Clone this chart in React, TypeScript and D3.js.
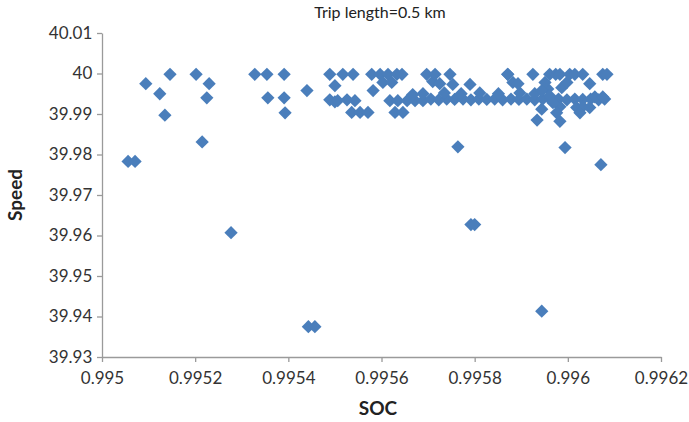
import React, { useRef, useEffect } from "react";
import * as d3 from "d3";

// SOC / speed samples (Trip length = 0.5 km)
const socValues: number[] = [
  0.995056, 0.995071, 0.995094, 0.995124, 0.995135, 0.995146, 0.995202, 0.995215,
  0.995225, 0.99523, 0.995277, 0.995328, 0.995354, 0.995356, 0.995391, 0.995391,
  0.995393, 0.99544, 0.995443, 0.995457, 0.995489, 0.9955, 0.995489, 0.9955,
  0.995506, 0.995517, 0.995526, 0.995539, 0.995543, 0.995536, 0.995554, 0.995571,
  0.995579, 0.995582, 0.995597, 0.995614, 0.995633, 0.995644, 0.995603, 0.995622,
  0.995618, 0.995635, 0.995655, 0.995672, 0.995689, 0.995629, 0.995646, 0.995667,
  0.995689, 0.995697, 0.99571, 0.995715, 0.995725, 0.995747, 0.995753, 0.99579,
  0.995706, 0.995723, 0.99574, 0.995757, 0.995775, 0.995792, 0.995809, 0.995826,
  0.995843, 0.99586, 0.995878, 0.995895, 0.995912, 0.995929, 0.995946, 0.995963,
  0.99598, 0.995998, 0.996015, 0.996032, 0.996049, 0.996066, 0.996079, 0.995735,
  0.995771, 0.995811, 0.995851, 0.995897, 0.995929, 0.995957, 0.995987, 0.995871,
  0.995882, 0.995893, 0.995951, 0.995998, 0.996047, 0.995871, 0.995925, 0.995961,
  0.995974, 0.995983, 0.996004, 0.996015, 0.996032, 0.996075, 0.996084, 0.995983,
  0.996019, 0.996032, 0.996047, 0.995976, 0.996026, 0.995934, 0.995983, 0.995944,
  0.995764, 0.995994, 0.996071, 0.995792, 0.9958, 0.995944, 0.995944, 0.995961,
  0.995968, 0.996058, 0.996075,
];

const speedValues: number[] = [
  39.9783, 39.9783, 39.9975, 39.995, 39.9897, 39.9998, 39.9998, 39.9831,
  39.994, 39.9975, 39.9607, 39.9998, 39.9998, 39.994, 39.9998, 39.994,
  39.9903, 39.9958, 39.9375, 39.9375, 39.9998, 39.997, 39.9935, 39.993,
  39.9933, 39.9998, 39.9935, 39.9998, 39.9933, 39.9904, 39.9904, 39.9904,
  39.9998, 39.9958, 39.9998, 39.9998, 39.9998, 39.9998, 39.9978, 39.9978,
  39.9933, 39.9933, 39.9933, 39.9933, 39.9933, 39.9904, 39.9904, 39.9948,
  39.995, 39.9998, 39.998, 39.9998, 39.9975, 39.9998, 39.9973, 39.9973,
  39.9937, 39.9935, 39.9937, 39.9936, 39.9937, 39.9935, 39.9937, 39.9936,
  39.9937, 39.9935, 39.9937, 39.9936, 39.9937, 39.9935, 39.9937, 39.9936,
  39.9937, 39.9935, 39.9937, 39.9936, 39.9937, 39.9935, 39.9937, 39.9952,
  39.995, 39.9952, 39.995, 39.9952, 39.995, 39.9962, 39.9965, 39.9998,
  39.9978, 39.9975, 39.9978, 39.9978, 39.9975, 39.9998, 39.9998, 39.9998,
  39.9998, 39.9998, 39.9998, 39.9998, 39.9998, 39.9998, 39.9998, 39.9918,
  39.9916, 39.9918, 39.9916, 39.9903, 39.9903, 39.9885, 39.9882, 39.9912,
  39.9819, 39.9817, 39.9775, 39.9627, 39.9627, 39.9413, 39.9958, 39.9945,
  39.9928, 39.9942, 39.9942,
];

const xTicks: number[] = [0.995, 0.9952, 0.9954, 0.9956, 0.9958, 0.996, 0.9962];
const yTicks: number[] = [39.93, 39.94, 39.95, 39.96, 39.97, 39.98, 39.99, 40, 40.01];

const App: React.FC = () => {
  const svgRef = useRef<SVGSVGElement>(null);

  useEffect(() => {
    if (!svgRef.current) return;
    const width = 689;
    const height = 422;
    const margin = { top: 33, right: 28, bottom: 65, left: 102 };
    const font = "Lato, 'Open Sans', sans-serif";
    const axisColor = "#9a9a9a";

    const svg = d3.select(svgRef.current);
    svg.selectAll("*").remove();

    const x = d3
      .scaleLinear()
      .domain([0.995, 0.9962])
      .range([margin.left, width - margin.right]);
    const y = d3
      .scaleLinear()
      .domain([39.93, 40.01])
      .range([height - margin.bottom, margin.top]);

    // Title
    svg
      .append("text")
      .attr("x", 380)
      .attr("y", 18)
      .attr("text-anchor", "middle")
      .style("font-family", font)
      .style("font-size", "16px")
      .attr("fill", "#222")
      .text("Trip length=0.5 km");

    // Axes
    const xAxis = svg
      .append("g")
      .attr("transform", `translate(0,${height - margin.bottom})`)
      .call(
        d3
          .axisBottom(x)
          .tickValues(xTicks)
          .tickSize(5)
          .tickSizeOuter(0)
          .tickFormat((d) => String(+d))
      );
    const yAxis = svg
      .append("g")
      .attr("transform", `translate(${margin.left},0)`)
      .call(
        d3
          .axisLeft(y)
          .tickValues(yTicks)
          .tickSize(5)
          .tickSizeOuter(0)
          .tickFormat((d) => String(+(+d).toFixed(2)))
      );

    [xAxis, yAxis].forEach((g) => {
      g.select(".domain").attr("stroke", axisColor).attr("stroke-width", 1.3);
      g.selectAll(".tick line").attr("stroke", axisColor).attr("stroke-width", 1.3);
      g.selectAll(".tick text")
        .attr("fill", "#333")
        .style("font-family", font)
        .style("font-size", "17px");
    });
    xAxis.selectAll(".tick text").attr("dy", "1.1em");
    yAxis.selectAll(".tick text").attr("dx", "-0.1em");

    // Axis titles
    svg
      .append("text")
      .attr("x", 378)
      .attr("y", 415)
      .attr("text-anchor", "middle")
      .style("font-family", font)
      .style("font-size", "19px")
      .style("font-weight", "bold")
      .attr("fill", "#222")
      .text("SOC");
    svg
      .append("text")
      .attr("transform", `translate(22,${(margin.top + height - margin.bottom) / 2}) rotate(-90)`)
      .attr("text-anchor", "middle")
      .style("font-family", font)
      .style("font-size", "19px")
      .style("font-weight", "bold")
      .attr("fill", "#222")
      .text("Speed");

    // Diamond markers
    const diamond = d3.symbol().type(d3.symbolSquare).size(88);
    svg
      .append("g")
      .selectAll("path")
      .data(d3.range(socValues.length))
      .join("path")
      .attr("d", diamond() as string)
      .attr(
        "transform",
        (i) => `translate(${x(socValues[i])},${y(speedValues[i])}) rotate(45)`
      )
      .attr("fill", "#4a7ebb");
  }, []);

  return (
    <svg
      ref={svgRef}
      width={689}
      height={422}
      style={{ position: "absolute", left: 0, top: 0, display: "block" }}
    />
  );
};

export default App;
